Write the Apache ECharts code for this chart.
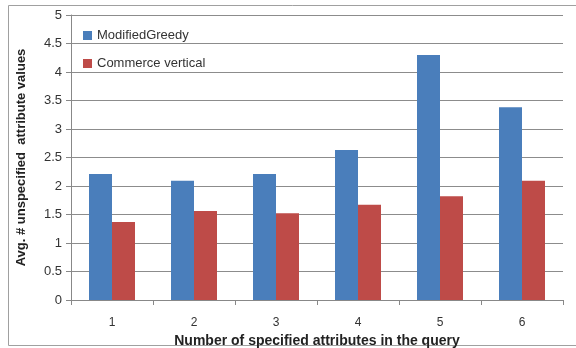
<!DOCTYPE html>
<html>
<head>
  <meta charset="utf-8">
  <title>Avg. unspecified attribute values</title>
  <style type="text/css">
    body{ margin: 0; background: #fff; }
    #main{ width: 576px; height: 348px; }
  </style>
</head>
<body>
<div id="main"></div>
<script type="text/javascript" src="https://cdn.jsdelivr.net/npm/echarts@6/dist/echarts.min.js"></script>
<script type="text/javascript">
  var categories = ['1', '2', '3', '4', '5', '6'];
  var greedy = [2.21, 2.09, 2.21, 2.63, 4.30, 3.38];
  var commerce = [1.37, 1.56, 1.52, 1.67, 1.82, 2.09];

  var myChart = echarts.init(document.getElementById('main'));
  var font = 'Liberation Sans';

  option = {
    animation: false,
    textStyle: { fontFamily: font },
    graphic: [{
      type: 'rect',
      shape: { x: 8.5, y: 5.5, width: 600, height: 340 },
      style: { fill: 'none', stroke: '#a0a0a0', lineWidth: 1 },
      silent: true
    }],
    grid: { left: 71, right: 13, top: 15, bottom: 48, containLabel: false, outerBoundsMode: 'none' },
    legend: {
      orient: 'vertical',
      left: 78,
      top: 24,
      itemWidth: 9,
      itemHeight: 9,
      itemGap: 15,
      icon: 'rect',
      textStyle: { fontSize: 13, color: '#333', fontFamily: font },
      data: ['ModifiedGreedy', 'Commerce vertical']
    },
    xAxis: {
      type: 'category',
      data: categories,
      name: 'Number of specified attributes in the query',
      nameLocation: 'middle',
      nameGap: 26,
      nameTextStyle: { fontSize: 14, fontWeight: 'bold', color: '#222' },
      axisLine: { lineStyle: { color: '#888' } },
      axisTick: { show: true, length: 5, lineStyle: { color: '#888' } },
      axisLabel: { fontSize: 12, color: '#333', margin: 17 }
    },
    yAxis: {
      type: 'value',
      min: 0,
      max: 5,
      interval: 0.5,
      name: 'Avg. # unspecified  attribute values',
      nameLocation: 'middle',
      nameGap: 43,
      nameTextStyle: { fontSize: 13, fontWeight: 'bold', color: '#222' },
      axisLine: { show: true, lineStyle: { color: '#888' } },
      axisTick: { show: true, length: 5, lineStyle: { color: '#888' } },
      axisLabel: { fontSize: 13, color: '#333', margin: 9 },
      splitLine: { lineStyle: { color: '#8c8c8c' } }
    },
    series: [
      {
        name: 'ModifiedGreedy',
        type: 'bar',
        data: greedy,
        barWidth: 23,
        barGap: '0%',
        itemStyle: { color: '#4a7ebb' }
      },
      {
        name: 'Commerce vertical',
        type: 'bar',
        data: commerce,
        barWidth: 23,
        barGap: '0%',
        itemStyle: { color: '#be4b48' }
      }
    ]
  };

  myChart.setOption(option);
</script>
</body>
</html>
